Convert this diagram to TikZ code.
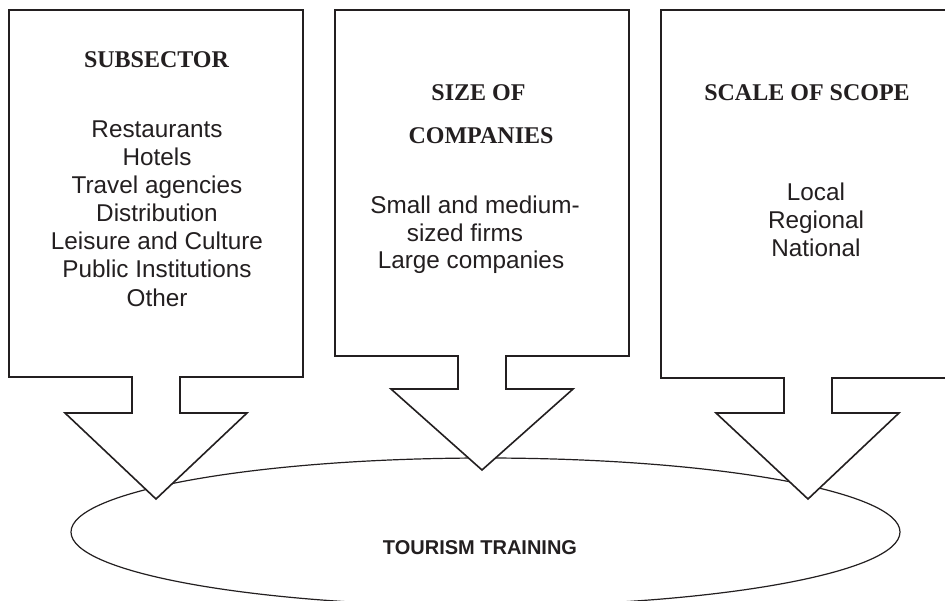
\documentclass[tikz,border=0pt]{standalone}
\usepackage{fontspec}
\setmainfont{Liberation Serif}
\newfontfamily\arialf{Liberation Sans}
\usetikzlibrary{shapes.geometric}
\definecolor{ink}{rgb}{0.137,0.122,0.125}
\tikzset{
  callout/.style={draw=ink, line width=1.6pt, fill=white, line join=miter},
  headtxt/.style={anchor=base, inner sep=0pt, text=ink, font=\bfseries\fontsize{24}{28}\selectfont},
  bodytxt/.style={anchor=base, inner sep=0pt, text=ink, font=\arialf\fontsize{24.3}{28}\selectfont},
  ovaltxt/.style={anchor=base, inner sep=0pt, text=ink, font=\arialf\bfseries\fontsize{20}{24}\selectfont}
}
\begin{document}
\begin{tikzpicture}[x=1pt,y=-1pt]
\useasboundingbox (0,0) rectangle (945,600);
\clip (0,0) rectangle (945,600);
\fill[white] (0,0) rectangle (945,600);
% ellipse
\node[ellipse, draw=ink, line width=1.2pt, minimum width=829pt, minimum height=148pt, inner sep=0pt] (oval) at (485.5,532) {};
% callouts
\draw[callout] (9,10) -- (303,10) -- (303,377) -- (180,377) -- (180,413) -- (247,413) -- (156,499) -- (65,413) -- (132,413) -- (132,377) -- (9,377) -- cycle;
\draw[callout] (335,10) -- (629,10) -- (629,356) -- (506,356) -- (506,389) -- (573,389) -- (482,470) -- (391,389) -- (458,389) -- (458,356) -- (335,356) -- cycle;
\draw[callout] (661,10) -- (955,10) -- (955,378) -- (832,378) -- (832,413) -- (899,413) -- (808,499) -- (716,413) -- (784,413) -- (784,378) -- (661,378) -- cycle;
% left texts
\node[headtxt] (h1) at (156.5,67) {SUBSECTOR};
\node[bodytxt] (l1) at (157,137) {Restaurants};
\node[bodytxt] (l2) at (157,165.2) {Hotels};
\node[bodytxt] (l3) at (157,193.3) {Travel agencies};
\node[bodytxt] (l4) at (157,221.5) {Distribution};
\node[bodytxt] (l5) at (157,249.7) {Leisure and Culture};
\node[bodytxt] (l6) at (157,277.8) {Public Institutions};
\node[bodytxt] (l7) at (157,306) {Other};
% middle texts
\node[headtxt] (h2a) at (478.5,100) {SIZE OF};
\node[headtxt] (h2b) at (481,143) {COMPANIES};
\node[bodytxt] (m1) at (475,213) {Small and medium-};
\node[bodytxt] (m2) at (465,241) {sized firms};
\node[bodytxt] (m3) at (471,268) {Large companies};
% right texts
\node[headtxt] (h3) at (807,100) {SCALE OF SCOPE};
\node[bodytxt] (r1) at (816,200) {Local};
\node[bodytxt] (r2) at (816,228) {Regional};
\node[bodytxt] (r3) at (816,256) {National};
% oval text
\node[ovaltxt] (tt) at (480,554) {TOURISM TRAINING};
\end{tikzpicture}
\end{document}
